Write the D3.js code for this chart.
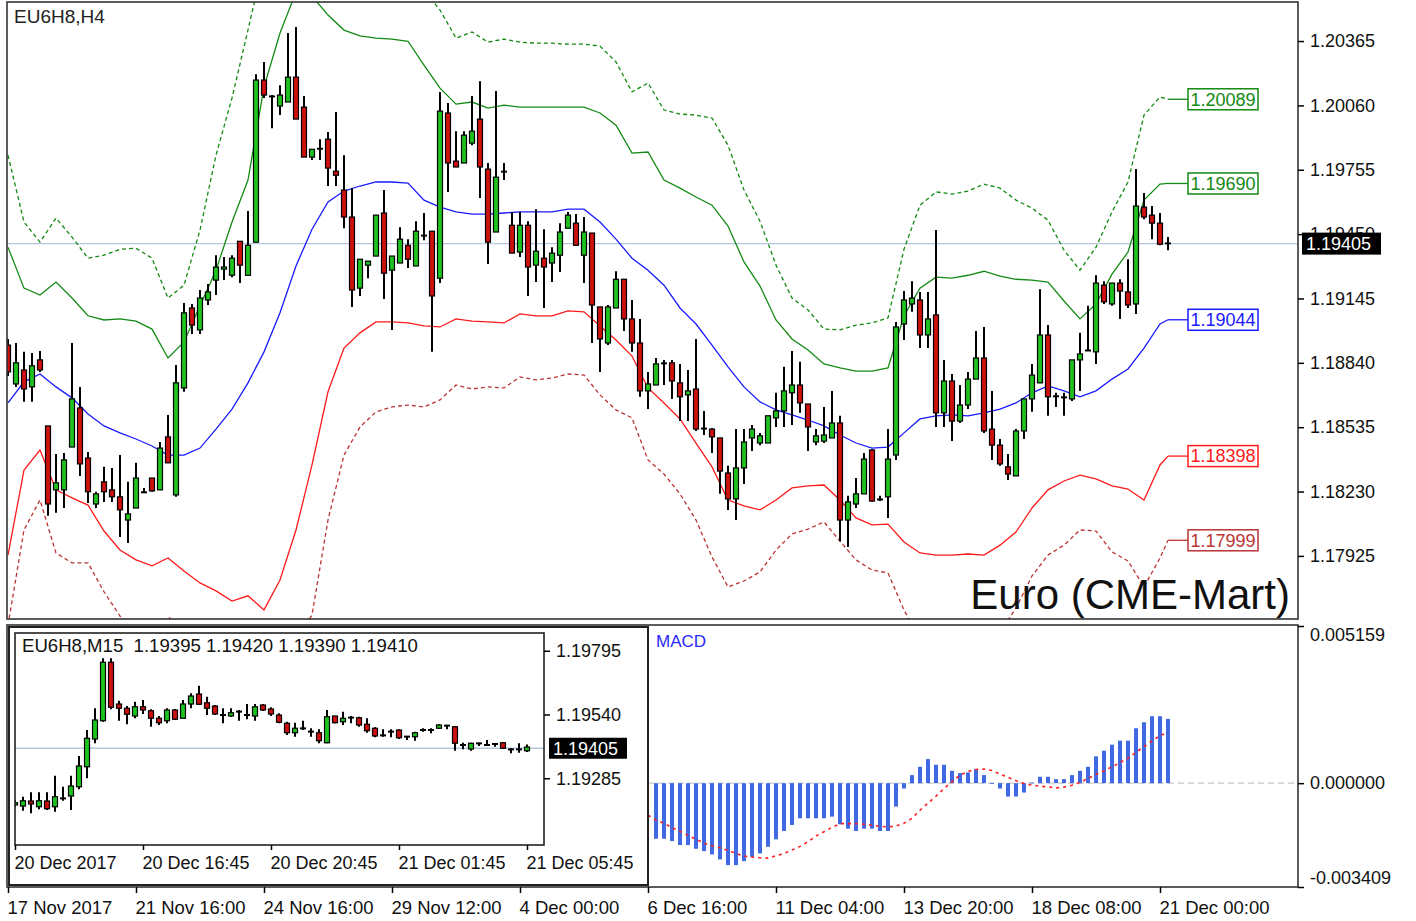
<!DOCTYPE html>
<html><head><meta charset="utf-8">
<script src="https://cdn.jsdelivr.net/npm/d3@7"></script>
<style>
html,body{margin:0;padding:0;background:#fff;}
svg{display:block;}
</style></head><body>
<svg id="c" width="1416" height="921"></svg>
<script>
// ---------------- DATA ----------------
const chartTitle = "EU6H8,H4";
const watermark = "Euro (CME-Mart)";
const lastPrice = 1.19405;

const xTickIdx = [0,16,32,48,64,80,96,112,128,144];
const xTickLabels = ["17 Nov 2017","21 Nov 16:00","24 Nov 16:00","29 Nov 12:00","4 Dec 00:00","6 Dec 16:00","11 Dec 04:00","13 Dec 20:00","18 Dec 08:00","21 Dec 00:00"];
const yTicks = [1.20365,1.20060,1.19755,1.19450,1.19145,1.18840,1.18535,1.18230,1.17925];

// H4 candles (146 bars)
const open = [1.18924,1.18740,1.18806,1.18726,1.18854,1.18541,1.18238,1.18238,1.18441,1.18626,
1.18389,1.18171,1.18276,1.18238,1.18205,1.18095,1.18152,1.18224,1.18294,1.18238,
1.18489,1.18214,1.18721,1.19100,1.18996,1.19138,1.19232,1.19284,1.19255,1.19416,
1.19255,1.19412,1.20180,1.20105,1.20057,1.20076,1.20194,1.20052,1.19815,1.19857,
1.19900,1.19748,1.19659,1.19531,1.19194,1.19303,1.19346,1.19550,1.19279,1.19313,
1.19397,1.19299,1.19441,1.19464,1.19241,1.20024,1.19796,1.19787,1.19881,1.19995,
1.19758,1.19460,1.19748,1.19492,1.19365,1.19492,1.19303,1.19336,1.19313,1.19350,
1.19478,1.19502,1.19350,1.19455,1.19105,1.18934,1.19100,1.19236,1.19048,1.18934,
1.18707,1.18735,1.18840,1.18840,1.18745,1.18688,1.18716,1.18531,1.18526,1.18484,
1.18318,1.18195,1.18342,1.18484,1.18460,1.18460,1.18579,1.18612,1.18698,1.18735,
1.18645,1.18465,1.18469,1.18484,1.18555,1.18095,1.18171,1.18219,1.18427,1.18195,
1.18205,1.18403,1.19024,1.19119,1.19138,1.18972,1.19067,1.18603,1.18754,1.18564,
1.18640,1.18763,1.18863,1.18526,1.18450,1.18347,1.18304,1.18517,1.18669,1.18745,
1.18972,1.18684,1.18674,1.18669,1.18854,1.18896,1.18892,1.19208,1.19119,1.19218,
1.19176,1.19119,1.19578,1.19540,1.19502,1.19407];
const high = [1.18953,1.18934,1.18892,1.18887,1.18896,1.18541,1.18408,1.18413,1.18934,1.18726,
1.18418,1.18229,1.18347,1.18342,1.18403,1.18276,1.18366,1.18247,1.18294,1.18465,
1.18593,1.18830,1.19124,1.19119,1.19185,1.19213,1.19350,1.19341,1.19350,1.19416,
1.19559,1.20208,1.20266,1.20109,1.20156,1.20403,1.20431,1.20105,1.19852,1.19900,
1.19934,1.20029,1.19824,1.19668,1.19331,1.19322,1.19540,1.19659,1.19346,1.19483,
1.19426,1.19511,1.19550,1.19464,1.20124,1.20071,1.19938,1.19938,1.20105,1.20175,
1.19787,1.20128,1.19787,1.19555,1.19555,1.19511,1.19568,1.19473,1.19388,1.19502,
1.19555,1.19545,1.19531,1.19455,1.19105,1.19114,1.19274,1.19236,1.19138,1.19048,
1.18797,1.18863,1.18854,1.18854,1.18835,1.18806,1.18953,1.18612,1.18531,1.18484,
1.18352,1.18526,1.18526,1.18545,1.18508,1.18589,1.18698,1.18821,1.18896,1.18845,
1.18645,1.18526,1.18631,1.18707,1.18589,1.18210,1.18294,1.18413,1.18431,1.18210,
1.18526,1.19034,1.19180,1.19227,1.19176,1.19176,1.19469,1.18854,1.18787,1.18735,
1.18797,1.18991,1.19010,1.18707,1.18479,1.18408,1.18526,1.18669,1.18835,1.19189,
1.19019,1.18698,1.18698,1.18854,1.18982,1.19110,1.19255,1.19227,1.19218,1.19236,
1.19331,1.19758,1.19645,1.19583,1.19550,1.19436];
const low = [1.18778,1.18726,1.18655,1.18655,1.18797,1.18115,1.18129,1.18152,1.18441,1.18304,
1.18176,1.18152,1.18181,1.18181,1.18015,1.17986,1.18152,1.18224,1.18229,1.18238,
1.18366,1.18205,1.18703,1.18977,1.18977,1.19114,1.19161,1.19232,1.19246,1.19218,
1.19255,1.19412,1.20095,1.19952,1.20014,1.20076,1.19995,1.19815,1.19801,1.19801,
1.19678,1.19678,1.19478,1.19105,1.19157,1.19241,1.19346,1.19142,1.18996,1.19313,
1.19289,1.19299,1.19421,1.18892,1.19218,1.19650,1.19768,1.19787,1.19871,1.19621,
1.19308,1.19460,1.19706,1.19360,1.19341,1.19157,1.19223,1.19100,1.19223,1.19270,
1.19478,1.19397,1.19218,1.18934,1.18797,1.18924,1.19100,1.18991,1.18892,1.18679,
1.18621,1.18735,1.18735,1.18669,1.18564,1.18564,1.18517,1.18498,1.18413,1.18219,
1.18143,1.18095,1.18266,1.18422,1.18450,1.18460,1.18536,1.18536,1.18545,1.18603,
1.18422,1.18450,1.18460,1.18484,1.17995,1.17967,1.18152,1.18219,1.18181,1.18185,
1.18105,1.18380,1.18948,1.19082,1.18910,1.18910,1.18536,1.18536,1.18469,1.18555,
1.18621,1.18763,1.18508,1.18380,1.18352,1.18285,1.18304,1.18479,1.18608,1.18745,
1.18589,1.18631,1.18589,1.18659,1.18707,1.18896,1.18835,1.19119,1.19110,1.19048,
1.19100,1.19072,1.19521,1.19426,1.19397,1.19374];
const close = [1.18797,1.18840,1.18716,1.18826,1.18806,1.18171,1.18271,1.18380,1.18669,1.18361,
1.18229,1.18219,1.18229,1.18205,1.18143,1.18124,1.18294,1.18229,1.18233,1.18436,
1.18366,1.18745,1.19077,1.19019,1.19147,1.19176,1.19294,1.19294,1.19336,1.19303,
1.19397,1.20180,1.20109,1.20100,1.20109,1.20194,1.19995,1.19815,1.19852,1.19852,
1.19763,1.19729,1.19531,1.19185,1.19331,1.19322,1.19540,1.19265,1.19346,1.19426,
1.19331,1.19464,1.19445,1.19157,1.20033,1.19787,1.19768,1.19919,1.19938,1.19768,
1.19412,1.19720,1.19744,1.19360,1.19492,1.19294,1.19369,1.19294,1.19360,1.19460,
1.19540,1.19397,1.19460,1.19114,1.18953,1.19105,1.19236,1.19048,1.18934,1.18707,
1.18740,1.18835,1.18835,1.18754,1.18679,1.18707,1.18526,1.18526,1.18489,1.18327,
1.18195,1.18342,1.18465,1.18526,1.18494,1.18589,1.18612,1.18707,1.18735,1.18650,
1.18536,1.18494,1.18498,1.18555,1.18095,1.18181,1.18219,1.18384,1.18185,1.18190,
1.18384,1.19010,1.19138,1.19147,1.18972,1.19048,1.18603,1.18754,1.18564,1.18640,
1.18763,1.18863,1.18517,1.18450,1.18361,1.18313,1.18517,1.18669,1.18782,1.18972,
1.18679,1.18679,1.18679,1.18854,1.18882,1.18901,1.19218,1.19129,1.19218,1.19180,
1.19114,1.19583,1.19531,1.19502,1.19402,1.19405];

// Bollinger bands, sampled every 2nd bar (0,2,...,144) plus the last bar (145)
const upperOuter = [1.19824,1.19507,1.19412,1.19526,1.19436,1.19336,1.19350,1.19378,1.19383,1.19336,
1.19147,1.19208,1.19469,1.19824,1.20095,1.20417,1.20749,1.21033,1.21128,1.21175,
1.21128,1.21033,1.20985,1.20891,1.20796,1.20701,1.20606,1.20512,1.20379,1.20408,
1.20360,1.20374,1.20360,1.20355,1.20355,1.20350,1.20350,1.20341,1.20266,1.20124,
1.20166,1.20038,1.20019,1.20014,1.20000,1.19871,1.19659,1.19511,1.19303,1.19147,
1.19091,1.19000,1.18996,1.19019,1.19029,1.19053,1.19378,1.19587,1.19650,1.19640,
1.19654,1.19687,1.19668,1.19611,1.19573,1.19516,1.19374,1.19279,1.19388,1.19555,
1.19697,1.20014,1.20100,1.20089];
const upperInner = [1.19388,1.19194,1.19161,1.19223,1.19147,1.19063,1.19043,1.19048,1.19038,1.19000,
1.18863,1.18939,1.19110,1.19279,1.19507,1.19706,1.20147,1.20403,1.20597,1.20578,
1.20488,1.20417,1.20389,1.20379,1.20374,1.20364,1.20251,1.20142,1.20066,1.20076,
1.20047,1.20061,1.20052,1.20052,1.20052,1.20052,1.20052,1.20024,1.19966,1.19834,
1.19839,1.19706,1.19668,1.19626,1.19587,1.19488,1.19318,1.19204,1.19043,1.18953,
1.18901,1.18835,1.18816,1.18801,1.18801,1.18816,1.19063,1.19194,1.19246,1.19241,
1.19255,1.19274,1.19251,1.19236,1.19232,1.19223,1.19133,1.19048,1.19119,1.19260,
1.19365,1.19611,1.19687,1.19690];
const middle = [1.18650,1.18750,1.18787,1.18726,1.18674,1.18598,1.18541,1.18508,1.18479,1.18446,
1.18403,1.18403,1.18436,1.18526,1.18621,1.18745,1.18892,1.19077,1.19299,1.19473,
1.19602,1.19654,1.19678,1.19697,1.19697,1.19692,1.19611,1.19578,1.19555,1.19545,
1.19545,1.19550,1.19555,1.19555,1.19555,1.19568,1.19568,1.19507,1.19426,1.19336,
1.19279,1.19208,1.19100,1.19024,1.18924,1.18821,1.18726,1.18655,1.18617,1.18593,
1.18569,1.18541,1.18498,1.18460,1.18436,1.18441,1.18508,1.18574,1.18589,1.18593,
1.18589,1.18603,1.18621,1.18650,1.18698,1.18731,1.18707,1.18679,1.18707,1.18763,
1.18811,1.18910,1.19024,1.19044];
const lowerInner = [1.17929,1.18332,1.18427,1.18238,1.18200,1.18166,1.18043,1.17953,1.17906,1.17878,
1.17915,1.17853,1.17797,1.17759,1.17711,1.17736,1.17669,1.17811,1.18048,1.18356,
1.18703,1.18910,1.18982,1.19034,1.19034,1.19029,1.19015,1.19010,1.19048,1.19038,
1.19034,1.19029,1.19072,1.19063,1.19063,1.19086,1.19082,1.19015,1.18948,1.18872,
1.18721,1.18650,1.18574,1.18460,1.18347,1.18190,1.18162,1.18143,1.18190,1.18247,
1.18257,1.18261,1.18190,1.18105,1.18072,1.18076,1.17991,1.17939,1.17929,1.17929,
1.17934,1.17929,1.17976,1.18038,1.18152,1.18238,1.18280,1.18308,1.18290,1.18257,
1.18242,1.18190,1.18356,1.18398];
const lowerOuter = [1.17597,1.18048,1.18190,1.17939,1.17892,1.17892,1.17755,1.17640,1.17526,1.17526,
1.17636,1.17583,1.17479,1.17432,1.17384,1.17337,1.17337,1.17384,1.17526,1.17645,
1.18095,1.18403,1.18536,1.18608,1.18631,1.18640,1.18631,1.18664,1.18735,1.18716,
1.18726,1.18721,1.18773,1.18759,1.18768,1.18787,1.18782,1.18688,1.18617,1.18579,
1.18380,1.18313,1.18219,1.18095,1.17920,1.17778,1.17806,1.17849,1.17953,1.18029,
1.18052,1.18086,1.17995,1.17906,1.17858,1.17844,1.17669,1.17526,1.17455,1.17408,
1.17422,1.17479,1.17564,1.17678,1.17830,1.17929,1.17976,1.18048,1.18043,1.17944,
1.17901,1.17778,1.17915,1.17999];

// MACD (histogram for bars 81..145, signal for bars 80..145)
const macdTicks = [0.005159, 0.000000, -0.003409];
const macdHist = [-0.001824,-0.001824,-0.001900,-0.002032,-0.002032,-0.002153,-0.002230,-0.002340,-0.002505,-0.002691,
-0.002691,-0.002560,-0.002417,-0.002307,-0.002087,-0.001845,-0.001571,-0.001373,-0.001153,-0.001153,
-0.001153,-0.001153,-0.001099,-0.001351,-0.001494,-0.001571,-0.001494,-0.001494,-0.001571,-0.001571,
-0.000769,-0.000176,
0.000264,0.000538,0.000791,0.000604,0.000604,0.000406,0.000330,0.000352,0.000461,0.000264,
-0.000010,-0.000176,-0.000439,-0.000439,-0.000308,
0.000020,0.000209,0.000209,0.000132,0.000132,0.000264,0.000406,0.000538,0.000879,0.001066,
0.001263,0.001395,0.001395,0.001802,0.001999,0.002197,0.002197,0.002109];
const macdSignal = [-0.001055,-0.001208,-0.001318,-0.001461,-0.001582,-0.001714,-0.001845,-0.001966,-0.002054,-0.002120,
-0.002208,-0.002307,-0.002395,-0.002428,-0.002450,-0.002461,-0.002384,-0.002307,-0.002197,-0.002076,
-0.001922,-0.001736,-0.001593,-0.001450,-0.001329,-0.001329,-0.001329,-0.001351,-0.001384,-0.001417,
-0.001439,-0.001406,-0.001318,-0.001153,-0.000890,-0.000659,-0.000428,-0.000176,0.000044,0.000264,
0.000384,0.000450,0.000461,0.000417,0.000297,0.000198,0.000077,-0.000011,-0.000066,-0.000099,
-0.000121,-0.000154,-0.000132,-0.000066,0.000022,0.000154,0.000286,0.000406,0.000538,0.000670,
0.000824,0.001011,0.001197,0.001384,0.001560,0.001670];
const macdHistStart = 81, macdSignalStart = 80;

// Inset M15 chart (65 bars)
const insetTitle = "EU6H8,M15  1.19395 1.19420 1.19390 1.19410";
const insetXTickIdx = [0,16,32,48,64];
const insetXTickLabels = ["20 Dec 2017","20 Dec 16:45","20 Dec 20:45","21 Dec 01:45","21 Dec 05:45"];
const insetYTicks = [1.19795,1.19540,1.19285];
const iOpen = [1.19178,1.19174,1.19194,1.19171,1.19194,1.19171,1.19203,1.19214,1.19251,1.19331,
1.19442,1.19515,1.19749,1.19582,1.19565,1.19534,1.19571,1.19555,1.19525,1.19515,
1.19558,1.19525,1.19582,1.19622,1.19587,1.19574,1.19537,1.19534,1.19550,1.19537,
1.19534,1.19578,1.19562,1.19538,1.19505,1.19467,1.19483,1.19470,1.19467,1.19427,
1.19534,1.19511,1.19526,1.19527,1.19501,1.19485,1.19455,1.19470,1.19478,1.19453,
1.19451,1.19477,1.19479,1.19485,1.19497,1.19491,1.19417,1.19402,1.19426,1.19417,
1.19423,1.19427,1.19402,1.19399,1.19395];
const iHigh = [1.19198,1.19211,1.19229,1.19229,1.19229,1.19295,1.19251,1.19295,1.19374,1.19478,
1.19565,1.19765,1.19765,1.19595,1.19574,1.19591,1.19598,1.19561,1.19534,1.19565,
1.19562,1.19598,1.19625,1.19655,1.19611,1.19578,1.19565,1.19565,1.19558,1.19582,
1.19582,1.19582,1.19569,1.19545,1.19511,1.19507,1.19515,1.19485,1.19481,1.19558,
1.19534,1.19551,1.19534,1.19531,1.19525,1.19489,1.19481,1.19481,1.19481,1.19454,
1.19471,1.19485,1.19485,1.19501,1.19498,1.19494,1.19427,1.19427,1.19427,1.19438,
1.19425,1.19430,1.19405,1.19425,1.19420];
const iLow = [1.19171,1.19155,1.19145,1.19161,1.19158,1.19151,1.19195,1.19158,1.19241,1.19285,
1.19425,1.19511,1.19561,1.19515,1.19501,1.19525,1.19542,1.19491,1.19498,1.19505,
1.19518,1.19525,1.19565,1.19578,1.19538,1.19538,1.19505,1.19531,1.19515,1.19521,
1.19515,1.19554,1.19534,1.19505,1.19458,1.19451,1.19478,1.19451,1.19425,1.19425,
1.19505,1.19498,1.19505,1.19491,1.19467,1.19449,1.19451,1.19449,1.19442,1.19438,
1.19435,1.19471,1.19465,1.19482,1.19481,1.19395,1.19401,1.19395,1.19414,1.19414,
1.19411,1.19402,1.19385,1.19387,1.19390];
const iClose = [1.19187,1.19195,1.19182,1.19195,1.19163,1.19211,1.19206,1.19254,1.19334,1.19445,
1.19518,1.19749,1.19569,1.19565,1.19541,1.19571,1.19558,1.19525,1.19507,1.19558,
1.19521,1.19582,1.19614,1.19581,1.19565,1.19542,1.19539,1.19547,1.19553,1.19539,
1.19571,1.19558,1.19542,1.19509,1.19467,1.19485,1.19486,1.19473,1.19435,1.19531,
1.19507,1.19525,1.19529,1.19498,1.19475,1.19454,1.19458,1.19473,1.19447,1.19450,
1.19467,1.19479,1.19477,1.19498,1.19494,1.19425,1.19419,1.19425,1.19423,1.19419,
1.19421,1.19405,1.19399,1.19402,1.19410];

// ---------------- DRAWING ----------------
const FONT = '"Liberation Sans", Arial, sans-serif';
const BULL = "#1ec41e", BEAR = "#cc1010";
const svg = d3.select("#c");
svg.append("rect").attr("width",1416).attr("height",921).attr("fill","#fff");

const x = d3.scaleLinear().domain([0,145]).range([8,1168]);
const y = d3.scaleLinear().domain([1.17626,1.20550]).range([619,2]);
const ym = d3.scaleLinear().domain([-0.003409,0.005159]).range([887,626]);
const bandIdx = d3.range(0,145,2).concat([145]);

const defs = svg.append("defs");
defs.append("clipPath").attr("id","clipMain").append("rect").attr("x",7).attr("y",2).attr("width",1291).attr("height",617);
defs.append("clipPath").attr("id","clipMacd").append("rect").attr("x",7).attr("y",625).attr("width",1291).attr("height",262);
defs.append("clipPath").attr("id","clipInset").append("rect").attr("x",15).attr("y",633).attr("width",529).attr("height",212);

// ---- main pane ----
const gMain = svg.append("g").attr("clip-path","url(#clipMain)");
gMain.append("line").attr("x1",7).attr("x2",1298).attr("y1",y(lastPrice)).attr("y2",y(lastPrice))
  .attr("stroke","#b4c6de").attr("stroke-width",1.2);

const bandDefs = [
  {vals: upperOuter, color:"#138a13", dash:"4,3"},
  {vals: upperInner, color:"#138a13", dash:null},
  {vals: middle, color:"#1a1aff", dash:null},
  {vals: lowerInner, color:"#ff1a1a", dash:null},
  {vals: lowerOuter, color:"#bb3333", dash:"4,3"}
];
const bandLine = d3.line().x((d,k)=>x(bandIdx[k])).y(d=>y(d));
bandDefs.forEach(b=>{
  gMain.append("path").attr("d",bandLine(b.vals)).attr("fill","none")
    .attr("stroke",b.color).attr("stroke-width",1.3)
    .attr("stroke-dasharray",b.dash);
});

function drawCandles(g, xs, ys, O, Hh, L, C, w){
  const idx = d3.range(O.length);
  g.selectAll(null).data(idx).enter().append("line")
    .attr("x1",i=>xs(i)).attr("x2",i=>xs(i))
    .attr("y1",i=>ys(Hh[i])).attr("y2",i=>ys(L[i]))
    .attr("stroke","#000").attr("stroke-width",2);
  idx.forEach(i=>{
    const top = ys(Math.max(O[i],C[i])), bot = ys(Math.min(O[i],C[i]));
    if (bot-top < 1.5) {
      g.append("line").attr("x1",xs(i)-w/2-0.5).attr("x2",xs(i)+w/2+0.5)
        .attr("y1",(top+bot)/2).attr("y2",(top+bot)/2).attr("stroke","#000").attr("stroke-width",2);
    } else {
      g.append("rect").attr("x",xs(i)-w/2).attr("y",top).attr("width",w).attr("height",bot-top)
        .attr("fill",C[i]>=O[i]?BULL:BEAR).attr("stroke","#000").attr("stroke-width",1.2);
    }
  });
}
drawCandles(gMain, x, y, open, high, low, close, 5);

svg.append("text").attr("x",1290).attr("y",609).attr("text-anchor","end")
  .attr("font-family",FONT).attr("font-size",42).attr("fill","#111").text(watermark);
svg.append("text").attr("x",14).attr("y",23).attr("font-family",FONT).attr("font-size",19)
  .attr("fill","#222").text(chartTitle);

// band value labels
bandDefs.forEach(b=>{
  const v = b.vals[b.vals.length-1], yy = y(v);
  svg.append("line").attr("x1",x(145)).attr("x2",1188).attr("y1",yy).attr("y2",yy)
    .attr("stroke",b.color).attr("stroke-width",1.3);
  svg.append("rect").attr("x",1188).attr("y",yy-10.5).attr("width",70).attr("height",21)
    .attr("fill","#fff").attr("stroke",b.color).attr("stroke-width",1.5);
  svg.append("text").attr("x",1223).attr("y",yy).attr("dy","0.35em").attr("text-anchor","middle")
    .attr("font-family",FONT).attr("font-size",18).attr("fill",b.color).text(v.toFixed(5));
});

// main frame + y axis
svg.append("rect").attr("x",7).attr("y",2).attr("width",1291).attr("height",617)
  .attr("fill","none").attr("stroke","#333").attr("stroke-width",1.6);
const gY = svg.append("g").attr("transform","translate(1298,0)")
  .call(d3.axisRight(y).tickValues(yTicks).tickSize(6).tickPadding(6).tickFormat(d3.format(".5f")));
gY.select(".domain").remove();
gY.attr("font-family",FONT).attr("font-size",18);
gY.selectAll("line").attr("stroke","#000").attr("stroke-width",1.5);
gY.selectAll("text").attr("fill","#111");
// current price box (drawn over the partly hidden 1.19450 tick label, as in the terminal)
svg.append("rect").attr("x",1302).attr("y",y(lastPrice)-11).attr("width",79).attr("height",22).attr("fill","#000");
svg.append("text").attr("x",1306).attr("y",y(lastPrice)).attr("dy","0.35em")
  .attr("font-family",FONT).attr("font-size",18).attr("fill","#fff").text(lastPrice.toFixed(5));

// ---- MACD pane ----
const gM = svg.append("g").attr("clip-path","url(#clipMacd)");
gM.append("line").attr("x1",648).attr("x2",1298).attr("y1",ym(0)).attr("y2",ym(0))
  .attr("stroke","#c8c8c8").attr("stroke-width",1.2).attr("stroke-dasharray","6,4");
gM.selectAll(null).data(macdHist).enter().append("rect")
  .attr("x",(d,k)=>x(macdHistStart+k)-2).attr("width",4)
  .attr("y",d=>Math.min(ym(d),ym(0))).attr("height",d=>Math.max(0.8,Math.abs(ym(d)-ym(0))))
  .attr("fill","#4169e1");
gM.append("path").attr("d",d3.line().x((d,k)=>x(macdSignalStart+k)).y(d=>ym(d))(macdSignal))
  .attr("fill","none").attr("stroke","#ff2020").attr("stroke-width",1.6).attr("stroke-dasharray","3,4");
svg.append("text").attr("x",656).attr("y",647).attr("font-family",FONT).attr("font-size",17)
  .attr("fill","#2a2aff").text("MACD");
svg.append("rect").attr("x",7).attr("y",625).attr("width",1291).attr("height",262)
  .attr("fill","none").attr("stroke","#333").attr("stroke-width",1.6);
const gMA = svg.append("g").attr("transform","translate(1298,0)")
  .call(d3.axisRight(ym).tickValues(macdTicks).tickSize(6).tickPadding(6).tickFormat(d=>d.toFixed(6)));
gMA.select(".domain").remove();
gMA.attr("font-family",FONT).attr("font-size",18);
gMA.selectAll("line").attr("stroke","#000").attr("stroke-width",1.5);
gMA.selectAll("text").attr("fill","#111").attr("dy",(d,k)=>k===0?"0.78em":(k===2?"-0.22em":"0.32em"));

// bottom time axis
const gX = svg.append("g").attr("transform","translate(0,887)")
  .call(d3.axisBottom(x).tickValues(xTickIdx).tickSize(6).tickPadding(8).tickFormat((d,k)=>xTickLabels[k]));
gX.select(".domain").remove();
gX.attr("font-family",FONT).attr("font-size",18.5);
gX.selectAll("line").attr("stroke","#000").attr("stroke-width",1.5);
gX.selectAll("text").attr("fill","#111").attr("text-anchor","start").attr("x",-1);

// ---- inset M15 chart ----
const xi = d3.scaleLinear().domain([0,64]).range([15,527]);
const yi = d3.scaleLinear().domain([1.19022,1.19866]).range([844,633]);
svg.append("rect").attr("x",9).attr("y",627).attr("width",639).attr("height",258)
  .attr("fill","#fff").attr("stroke","#222").attr("stroke-width",2);
const gI = svg.append("g").attr("clip-path","url(#clipInset)");
gI.append("line").attr("x1",15).attr("x2",544).attr("y1",yi(lastPrice)).attr("y2",yi(lastPrice))
  .attr("stroke","#b4c6de").attr("stroke-width",1.5);
drawCandles(gI, xi, yi, iOpen, iHigh, iLow, iClose, 5);
svg.append("rect").attr("x",15).attr("y",633).attr("width",529).attr("height",212)
  .attr("fill","none").attr("stroke","#222").attr("stroke-width",1.6);
svg.append("text").attr("x",22).attr("y",652).attr("font-family",FONT).attr("font-size",18.6)
  .attr("fill","#111").attr("xml:space","preserve").style("white-space","pre").text(insetTitle);
const gIY = svg.append("g").attr("transform","translate(544,0)")
  .call(d3.axisRight(yi).tickValues(insetYTicks).tickSize(6).tickPadding(6).tickFormat(d3.format(".5f")));
gIY.select(".domain").remove();
gIY.attr("font-family",FONT).attr("font-size",18);
gIY.selectAll("line").attr("stroke","#000").attr("stroke-width",1.5);
gIY.selectAll("text").attr("fill","#111");
svg.append("rect").attr("x",549).attr("y",yi(lastPrice)-10.5).attr("width",78).attr("height",21).attr("fill","#000");
svg.append("text").attr("x",553).attr("y",yi(lastPrice)).attr("dy","0.35em")
  .attr("font-family",FONT).attr("font-size",18).attr("fill","#fff").text(lastPrice.toFixed(5));
const gIX = svg.append("g").attr("transform","translate(0,845)")
  .call(d3.axisBottom(xi).tickValues(insetXTickIdx).tickSize(5).tickPadding(6).tickFormat((d,k)=>insetXTickLabels[k]));
gIX.select(".domain").remove();
gIX.attr("font-family",FONT).attr("font-size",18);
gIX.selectAll("line").attr("stroke","#000").attr("stroke-width",1.5);
gIX.selectAll("text").attr("fill","#111").attr("text-anchor","start").attr("x",-1);
</script>
</body></html>
